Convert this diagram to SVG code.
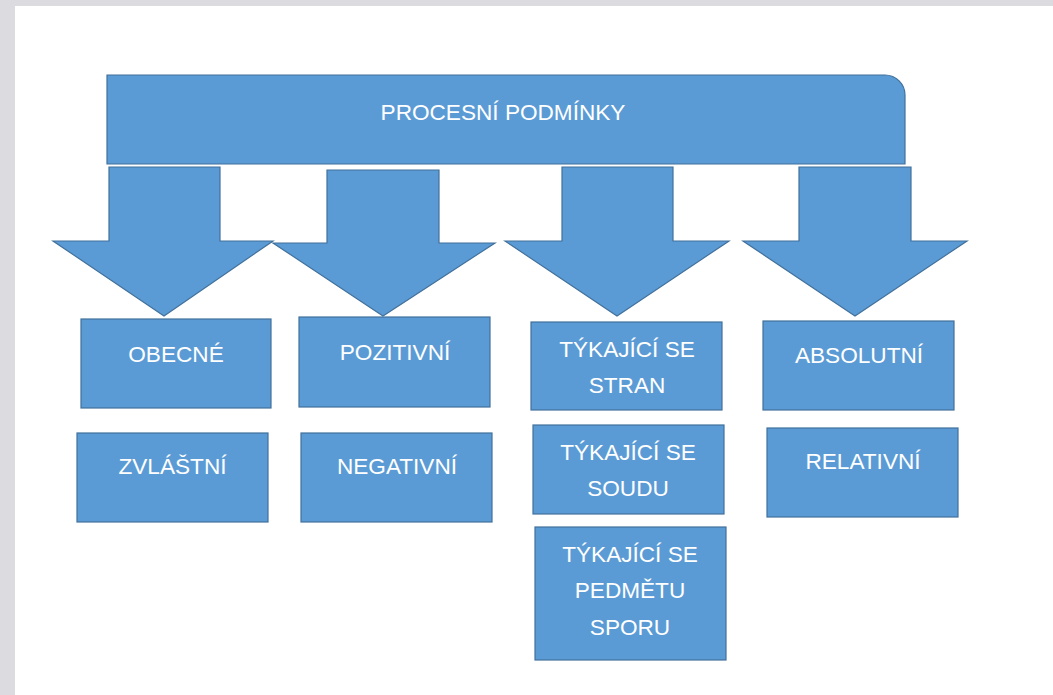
<svg xmlns="http://www.w3.org/2000/svg" width="1053" height="695" viewBox="0 0 1053 695">
<style>
.shape{fill:#5B9BD5;stroke:#41719C;stroke-width:1.2}
.lbl{font-family:"Liberation Sans",Arial,sans-serif;font-size:22.6px;fill:#ffffff;text-anchor:middle}
</style>
<rect x="0" y="0" width="1053" height="695" fill="#dcdce0"/>
<rect x="15" y="6" width="1038" height="689" fill="#ffffff"/>
<g id="connectors">
<polygon class="shape" points="109,167 220,167 220,241 273,241 164,316 53,241 109,241"/>
<polygon class="shape" points="327,170 439,170 439,243 495,243 383,316 273,243 327,243"/>
<polygon class="shape" points="562,167 673,167 673,241 729,241 617,316 505,241 562,241"/>
<polygon class="shape" points="799,167 911,167 911,241 967,241 855,316 743,241 799,241"/>
</g>
<g id="procesni-podminky">
<path class="shape" d="M107,75 H885 A20,20 0 0 1 905,95 V164 H107 Z"/>
<text class="lbl" x="503" y="120">PROCESNÍ PODMÍNKY</text>
</g>
<g id="obecne">
<rect class="shape" x="81" y="319" width="190" height="89"/>
<text class="lbl" x="176" y="362">OBECNÉ</text>
</g>
<g id="zvlastni">
<rect class="shape" x="77" y="433" width="191" height="89"/>
<text class="lbl" x="172.5" y="474">ZVLÁŠTNÍ</text>
</g>
<g id="pozitivni">
<rect class="shape" x="299" y="317" width="191" height="90"/>
<text class="lbl" x="395" y="360">POZITIVNÍ</text>
</g>
<g id="negativni">
<rect class="shape" x="301" y="433" width="191" height="89"/>
<text class="lbl" x="397" y="474">NEGATIVNÍ</text>
</g>
<g id="tykajici-stran">
<rect class="shape" x="531" y="322" width="191" height="88"/>
<text class="lbl" x="627" y="357">TÝKAJÍCÍ SE</text>
<text class="lbl" x="627" y="393">STRAN</text>
</g>
<g id="tykajici-soudu">
<rect class="shape" x="533" y="425" width="191" height="89"/>
<text class="lbl" x="628" y="460">TÝKAJÍCÍ SE</text>
<text class="lbl" x="628" y="496">SOUDU</text>
</g>
<g id="tykajici-predmetu">
<rect class="shape" x="535" y="527" width="191" height="133"/>
<text class="lbl" x="630" y="562">TÝKAJÍCÍ SE</text>
<text class="lbl" x="630" y="598">PEDMĚTU</text>
<text class="lbl" x="630" y="635">SPORU</text>
</g>
<g id="absolutni">
<rect class="shape" x="763" y="321" width="191" height="89"/>
<text class="lbl" x="859" y="363">ABSOLUTNÍ</text>
</g>
<g id="relativni">
<rect class="shape" x="767" y="428" width="191" height="89"/>
<text class="lbl" x="863" y="469">RELATIVNÍ</text>
</g>
</svg>
